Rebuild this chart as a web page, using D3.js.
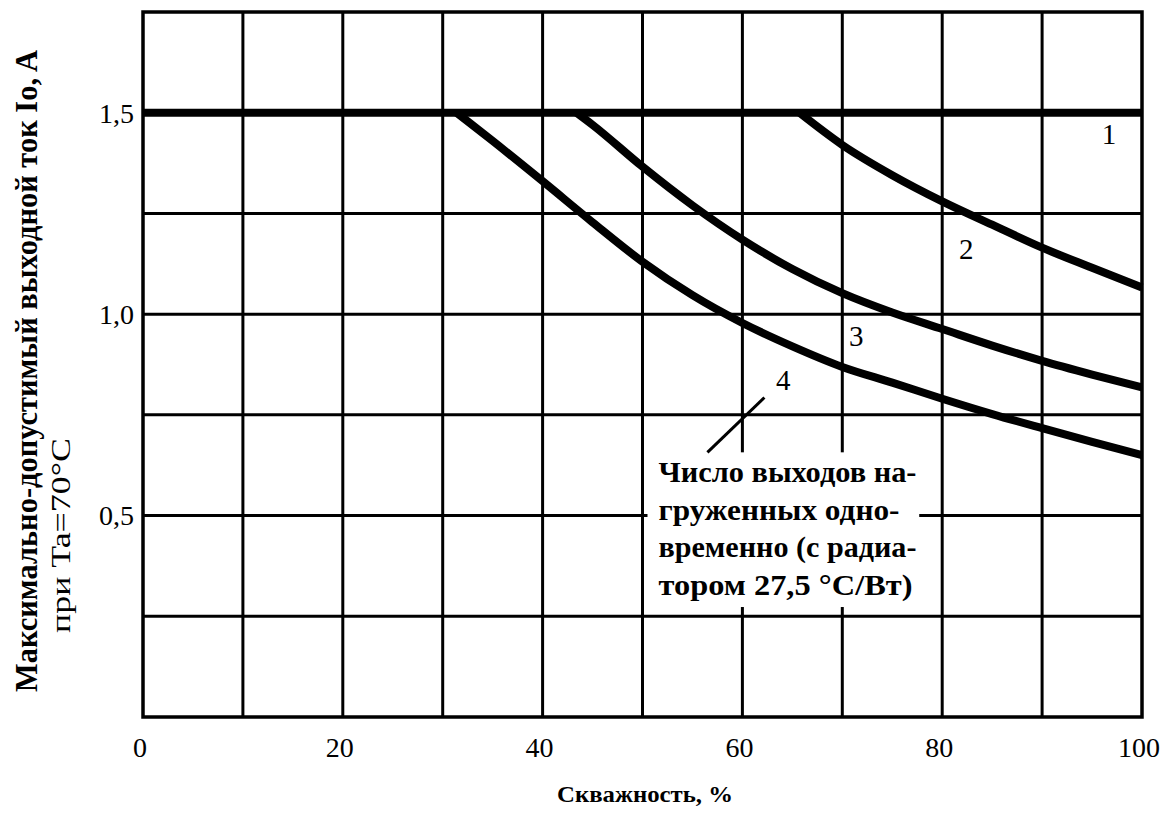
<!DOCTYPE html>
<html>
<head>
<meta charset="utf-8">
<script src="https://cdn.jsdelivr.net/npm/d3@7"></script>
<style>
	body { margin: 0; background: #fff; }
	text { font-family: "Liberation Serif", "Times New Roman", serif; fill: #000; }
</style>
</head>
<body>
<svg id="chart" width="1168" height="820"></svg>
<script>
// values: duty cycle (%) vs max output current (A)
const xTicks = [0, 20, 40, 60, 80, 100];
const yTicks = [0.5, 1.0, 1.5];

const curve1 = [[0, 1.5], [100, 1.5]];
const curve2 = [[65.7, 1.5], [70, 1.42], [75, 1.345], [80, 1.28], [85, 1.222], [90, 1.165], [95, 1.115], [100, 1.066]];
const curve3 = [[43.4, 1.5], [45, 1.47], [50, 1.366], [55, 1.27], [60, 1.185], [65, 1.112], [70, 1.052], [75, 1.004], [80, 0.963], [85, 0.922], [90, 0.884], [95, 0.85], [100, 0.818]];
const curve4 = [[31.4, 1.5], [35, 1.43], [40, 1.33], [45, 1.228], [50, 1.13], [55, 1.047], [60, 0.978], [65, 0.92], [70, 0.869], [75, 0.83], [80, 0.79], [85, 0.752], [90, 0.717], [95, 0.683], [100, 0.65]];

const curveNames = ['1', '2', '3', '4'];
const noteLines = ['Число выходов на-', 'груженных одно-', 'временно (с радиа-', 'тором  27,5 °С/Вт)'];

const xTitle = 'Скважность, %';
const yTitle1 = 'Максимально-допустимый выходной ток Io, A';
const yTitle2 = 'при Ta=70°C';

const svg = d3.select('#chart');

const x = d3.scaleLinear().domain([0, 100]).range([143, 1142]);
const y = d3.scaleLinear().domain([0, 1.75]).range([717, 12]);

const fmt = d3.formatLocale({decimal: ',', thousands: ' ', grouping: [3], currency: ['', '']}).format('.1f');

// grid
svg.append('g')
	.selectAll('line')
	.data(d3.range(10, 100, 10))
	.join('line')
	.attr('x1', d => x(d)).attr('x2', d => x(d))
	.attr('y1', y(0)).attr('y2', y(1.75))
	.attr('stroke', '#000').attr('stroke-width', 3);

svg.append('g')
	.selectAll('line')
	.data(d3.range(0.25, 1.75, 0.25))
	.join('line')
	.attr('x1', x(0)).attr('x2', x(100))
	.attr('y1', d => y(d)).attr('y2', d => y(d))
	.attr('stroke', '#000').attr('stroke-width', 3);

// white patch under the note
svg.append('rect')
	.attr('x', x(50.5)).attr('y', y(0.657))
	.attr('width', x(77.7) - x(50.5)).attr('height', y(0.273) - y(0.657))
	.attr('fill', '#fff');

// frame
svg.append('rect')
	.attr('x', x(0)).attr('y', y(1.75))
	.attr('width', x(100) - x(0)).attr('height', y(0) - y(1.75))
	.attr('fill', 'none').attr('stroke', '#000').attr('stroke-width', 3.5);

// curves
const line = d3.line()
	.x(d => x(d[0]))
	.y(d => y(d[1]))
	.curve(d3.curveMonotoneX);

svg.append('g')
	.selectAll('path')
	.data([curve1, curve2, curve3, curve4])
	.join('path')
	.attr('d', line)
	.attr('fill', 'none')
	.attr('stroke', '#000')
	.attr('stroke-width', 8)
	.attr('stroke-linecap', 'butt');

// curve numbers
const labelAt = [[96.7, 1.423], [82.4, 1.138], [71.4, 0.922], [64.1, 0.811]];
svg.append('g')
	.selectAll('text')
	.data(curveNames)
	.join('text')
	.attr('x', (d, i) => x(labelAt[i][0]))
	.attr('y', (d, i) => y(labelAt[i][1]))
	.attr('text-anchor', 'middle')
	.style('font-size', '29px')
	.text(d => d);

// leader to the note
svg.append('line')
	.attr('x1', x(56.5)).attr('y1', y(0.657))
	.attr('x2', x(62.2)).attr('y2', y(0.793))
	.attr('stroke', '#000').attr('stroke-width', 3);

const noteWidths = [258, 241, 258, 254];
svg.append('g')
	.selectAll('text')
	.data(noteLines)
	.join('text')
	.attr('x', x(51.6))
	.attr('y', (d, i) => 482 + i * 37.7)
	.attr('textLength', (d, i) => noteWidths[i])
	.attr('lengthAdjust', 'spacingAndGlyphs')
	.style('font-size', '30px')
	.style('font-weight', 'bold')
	.text(d => d);

// tick labels
svg.append('g')
	.selectAll('text')
	.data(xTicks)
	.join('text')
	.attr('x', d => x(d) - 3)
	.attr('y', 757)
	.attr('text-anchor', 'middle')
	.style('font-size', '28px')
	.text(d => d);

svg.append('g')
	.selectAll('text')
	.data(yTicks)
	.join('text')
	.attr('x', 134)
	.attr('y', d => y(d))
	.attr('dy', '0.35em')
	.attr('text-anchor', 'end')
	.style('font-size', '28px')
	.text(d => fmt(d));

// axis titles
svg.append('text')
	.attr('x', 557)
	.attr('y', 802)
	.attr('textLength', 176)
	.attr('lengthAdjust', 'spacingAndGlyphs')
	.style('font-size', '24px')
	.style('font-weight', 'bold')
	.text(xTitle);

svg.append('text')
	.attr('transform', 'translate(37,692) rotate(-90)')
	.attr('textLength', 642)
	.attr('lengthAdjust', 'spacingAndGlyphs')
	.style('font-size', '31px')
	.style('font-weight', 'bold')
	.text(yTitle1);

svg.append('text')
	.attr('transform', 'translate(70,633) rotate(-90)')
	.attr('textLength', 195)
	.attr('lengthAdjust', 'spacingAndGlyphs')
	.style('font-size', '27px')
	.text(yTitle2);
</script>
</body>
</html>
